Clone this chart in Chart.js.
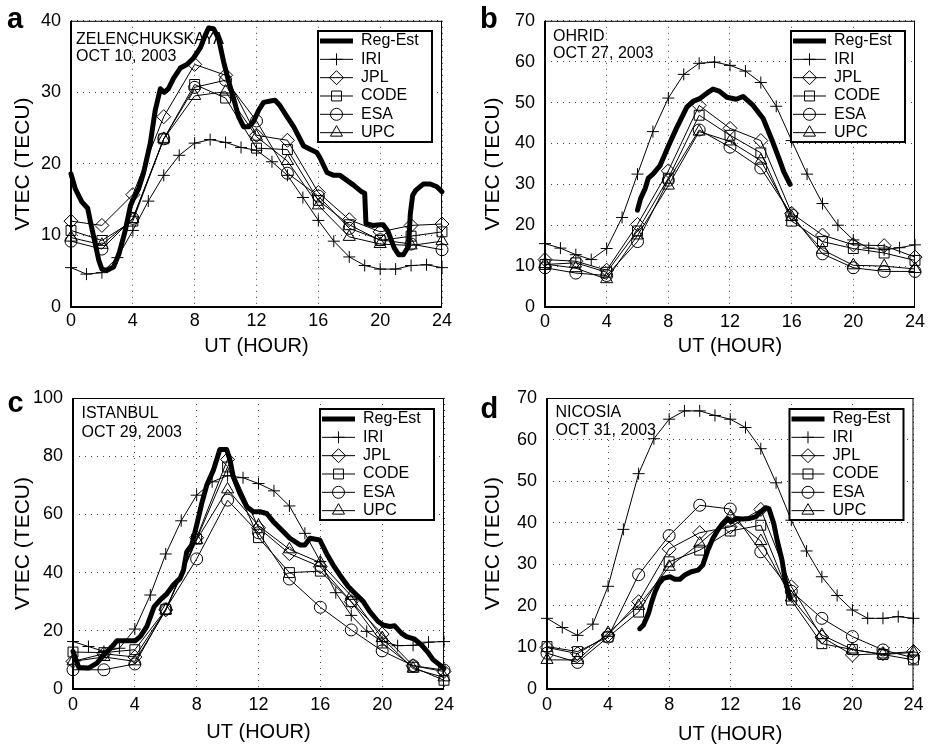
<!DOCTYPE html>
<html><head><meta charset="utf-8">
<script src="https://cdn.jsdelivr.net/npm/chart.js@4.4.1/dist/chart.umd.min.js"></script>
<style>
html,body{margin:0;padding:0;background:#fff;}
body{width:929px;height:746px;position:relative;overflow:hidden;}
canvas{position:absolute;display:block;}
</style></head><body>
<canvas id="ca" width="465" height="372" style="left:0px;top:0px;width:465px;height:372px"></canvas>
<canvas id="cb" width="464" height="372" style="left:465px;top:0px;width:464px;height:372px"></canvas>
<canvas id="cc" width="465" height="374" style="left:0px;top:372px;width:465px;height:374px"></canvas>
<canvas id="cd" width="464" height="374" style="left:465px;top:372px;width:464px;height:374px"></canvas>
<script>
// ---------------- DATA ----------------
const seriesNames = ['Reg-Est', 'IRI', 'JPL', 'CODE', 'ESA', 'UPC'];
const xTickValues = [0, 4, 8, 12, 16, 20, 24];
const hourly = [0,1,2,3,4,5,6,7,8,9,10,11,12,13,14,15,16,17,18,19,20,21,22,23,24];
const biHourly = [0,2,4,6,8,10,12,14,16,18,20,22,24];

// Panel a: ZELENCHUKSKAYA, OCT 10, 2003
const regEstHoursA = [0,0.28,0.7,1.08,1.25,1.57,1.8,2.0,2.3,2.75,3.1,3.5,3.85,4.05,4.37,4.7,5.13,5.45,5.78,6.03,6.3,6.64,7.07,7.5,7.93,8.36,8.69,8.9,9.22,9.55,9.87,10.19,10.5,10.84,11.16,11.5,11.8,12.14,12.46,12.9,13.2,13.5,13.97,14.4,15.05,15.5,15.9,16.1,16.56,17.0,17.4,17.85,18.3,18.8,19.0,19.08,19.5,20.0,20.2,20.5,20.9,21.2,21.5,21.84,21.95,22.1,22.3,22.8,23.24,23.67,24];
const regEstA = [18.6,16.5,14.7,13.8,12.0,8.8,6.5,5.3,5.1,5.6,7.4,10.6,14.2,15.2,16.5,18.8,22.9,27.5,30.5,30.0,30.5,32.0,33.4,33.9,34.8,36.2,38.0,39.0,38.9,37.5,34.3,31.6,29.3,26.6,25.2,25.2,25.9,27.5,28.6,28.8,28.9,28.2,26.6,25.2,22.5,22.0,21.6,20.9,18.8,18.4,18.4,17.7,17.0,16.1,15.9,11.7,11.4,11.5,11.5,10.6,8.3,7.3,7.3,8.5,13.0,15.6,16.3,17.2,17.2,16.8,16.1];
const iriA = [5.5,4.6,4.8,6.9,10.7,14.8,18.4,21.2,22.9,23.4,23.0,22.3,21.9,20.3,18.4,15.3,12.1,9.2,7.0,5.8,5.3,5.3,5.8,5.9,5.5];
const jplA = [12.0,11.4,15.7,26.6,33.9,32.4,24.0,23.3,16.0,12.2,10.5,11.4,11.6];
const codeA = [10.7,9.3,12.0,23.5,31.1,29.2,22.2,22.0,14.9,11.5,9.3,9.9,10.5];
const esaA = [9.2,8.1,12.4,23.5,30.7,31.7,26.0,18.7,15.5,11.0,9.4,8.8,8.0];
const upcA = [9.7,8.7,12.3,23.5,29.5,30.1,23.8,20.4,14.2,9.8,8.8,8.6,9.2];

// Panel b: OHRID, OCT 27, 2003
const regEstHoursB = [6.0,6.2,6.5,6.7,7.0,7.45,8.0,8.5,9.2,9.6,10.0,10.5,10.9,11.3,11.8,12.4,12.85,13.5,14.15,14.8,15.2,15.5,15.9];
const regEstB = [23.7,26.5,29.0,31.5,32.5,34.5,39.3,43.5,48.9,50.3,50.9,52.3,53.3,52.8,51.3,50.8,51.5,49.3,46.1,40.1,36.1,33.0,30.0];
const iriB = [15.5,14.4,12.8,11.6,14.3,21.9,32.5,42.9,51.1,56.9,59.6,59.9,59.1,57.7,54.9,49.1,40.7,32.5,25.3,20.0,16.4,14.4,14.0,14.5,15.2];
const jplB = [11.6,11.2,9.0,20.2,33.3,49.3,43.7,40.7,22.9,17.6,15.2,15.0,12.2];
const codeB = [10.4,10.8,8.5,18.6,31.5,46.9,42.0,37.7,21.0,16.0,14.3,13.2,11.4];
const esaB = [9.6,8.3,7.7,16.0,31.0,43.3,39.1,34.0,22.5,13.0,9.6,8.7,8.7];
const upcB = [10.5,9.5,6.8,17.5,29.7,42.9,40.5,35.8,22.0,14.0,10.2,10.0,9.3];

// Panel c: ISTANBUL, OCT 29, 2003
const regEstHoursC = [0,0.37,1.0,1.55,2.1,2.63,2.84,4.02,4.35,4.78,5.25,5.64,6.07,6.5,6.93,7.15,7.36,7.68,8.0,8.33,8.65,9.08,9.5,9.94,10.16,10.37,10.8,11.24,11.67,12.1,12.53,12.96,13.5,14.03,14.68,15.0,15.33,15.97,16.4,16.83,17.26,17.8,18.23,18.77,19.2,19.74,20.06,20.49,20.81,21.24,21.57,22.1,22.53,22.96,23.29,23.72,24];
const regEstC = [12.9,7.4,7.2,8.9,12.3,15.2,16.6,16.6,18.0,21.5,28.3,30.6,32.7,35.8,38.0,40.9,47.2,49.5,56.3,63.8,70.0,75.2,82.3,82.3,78.6,72.9,67.2,62.6,60.9,60.9,60.3,57.5,54.6,51.8,49.5,49.5,51.8,51.2,46.6,42.6,39.2,35.2,32.9,30.1,26.6,23.2,22.0,21.5,21.7,19.2,18.0,17.1,15.2,12.6,10.1,8.3,7.0];
const iriC = [16.3,14.6,12.9,14.0,20.6,32.3,46.4,57.8,66.6,71.2,73.3,72.6,70.6,68.1,62.9,53.5,43.8,33.1,25.3,19.8,16.3,14.9,15.0,16.1,16.3];
const jplC = [9.5,12.1,11.0,27.2,52.0,78.9,55.4,46.5,42.0,30.0,18.9,8.0,6.0];
const codeC = [12.7,12.5,13.5,27.3,51.5,76.3,52.0,40.0,40.5,30.0,15.8,7.5,3.0];
const esaC = [6.6,6.6,8.6,27.5,44.7,64.9,53.7,37.8,28.1,20.3,13.1,8.0,6.5];
const upcC = [9.5,11.0,9.5,27.0,51.2,68.6,56.1,48.0,43.4,32.0,17.5,7.0,4.0];

// Panel d: NICOSIA, OCT 31, 2003
const regEstHoursD = [6.07,6.32,6.65,6.86,7.08,7.3,7.62,8.05,8.37,8.7,9.02,9.45,9.89,10.2,10.53,10.86,11.18,11.5,11.83,12.04,12.37,12.8,13.23,13.66,13.99,14.31,14.53,14.85,15.07,15.39,15.6,15.82,15.93];
const regEstD = [14.5,15.4,18.2,21.0,23.4,25.2,26.6,27.0,26.4,26.4,27.4,28.2,28.6,29.8,33.4,36.2,38.2,39.8,41.0,40.2,41.0,40.9,41.0,41.4,42.6,43.6,43.4,39.8,35.8,31.0,26.2,23.0,21.8];
const iriD = [17.0,14.8,12.9,15.6,24.7,38.4,51.8,60.2,64.9,66.9,66.9,65.8,64.9,62.9,57.8,49.6,40.6,33.2,27.0,22.5,19.0,17.0,17.0,17.4,17.0];
const jplD = [10.0,8.5,13.0,21.0,33.7,37.6,39.0,43.2,24.6,12.5,8.2,8.5,9.0];
const codeD = [10.2,9.0,12.5,18.5,30.6,33.4,38.0,39.4,21.4,10.9,9.5,8.3,7.0];
const esaD = [8.6,6.4,12.5,27.5,36.9,44.2,43.3,33.0,23.5,17.0,12.6,9.4,7.5];
const upcD = [7.0,7.0,13.5,20.0,29.4,35.0,41.4,35.6,22.0,13.0,9.5,8.3,8.8];

// ---------------- RENDERING ----------------
const FONT = "'Liberation Sans', Arial, Helvetica, sans-serif";
const pts = (xs, ys) => xs.map((x, i) => ({x: x, y: ys[i]}));

const markerStyles = {
  'IRI':  {pointStyle: 'cross',    radius: 6},
  'JPL':  {pointStyle: 'rectRot',  radius: 7},
  'CODE': {pointStyle: 'rect',     radius: 7},
  'ESA':  {pointStyle: 'circle',   radius: 6},
  'UPC':  {pointStyle: 'triangle', radius: 7}
};

function drawMarker(ctx, style, radius, x, y) {
  ctx.save();
  ctx.strokeStyle = '#000';
  ctx.fillStyle = 'rgba(0,0,0,0)';
  ctx.lineWidth = 1;
  if (Chart.helpers && Chart.helpers.drawPoint) {
    Chart.helpers.drawPoint(ctx, {pointStyle: style, radius: radius, rotation: 0, borderWidth: 1}, x, y);
  }
  ctx.restore();
}

const framePlugin = {
  id: 'framePlugin',
  beforeDatasetsDraw(chart, args, opts) {
    const ctx = chart.ctx, a = chart.chartArea;
    ctx.save();
    // station text
    ctx.fillStyle = '#000';
    ctx.font = '16px ' + FONT;
    ctx.textBaseline = 'middle';
    ctx.textAlign = 'left';
    opts.station.forEach((t, i) => ctx.fillText(t, a.left + opts.stX, a.top + opts.stY[i]));
    // frame
    ctx.fillStyle = '#000';
    ctx.fillRect(a.left, a.top, a.right - a.left, 1);
    ctx.fillRect(a.right - 1, a.top, 1, a.bottom - a.top);
    ctx.fillRect(a.left - 1, a.top, 2, a.bottom - a.top + 1);
    ctx.fillRect(a.left - 1, a.bottom - 1, a.right - a.left + 1, 2);
    ctx.restore();
  },
  afterDraw(chart, args, opts) {
    const ctx = chart.ctx;
    ctx.save();
    ctx.fillStyle = '#000';
    ctx.font = 'bold 29px ' + FONT;
    ctx.textBaseline = 'alphabetic';
    ctx.textAlign = 'left';
    ctx.fillText(opts.letter, opts.letterX, opts.letterY);
    ctx.restore();
  }
};

const boxLegendPlugin = {
  id: 'boxLegend',
  afterDatasetsDraw(chart) {
    const ctx = chart.ctx, a = chart.chartArea;
    const w = 114, h = 111;
    const bx = a.right - 10 - w, by = Math.round(a.top + 10.5);
    ctx.save();
    ctx.fillStyle = '#fff';
    ctx.fillRect(bx, by, w, h);
    ctx.strokeStyle = '#000';
    ctx.lineWidth = 2;
    ctx.strokeRect(bx, by, w, h);
    ctx.font = '16px ' + FONT;
    ctx.textBaseline = 'middle';
    ctx.textAlign = 'left';
    chart.data.datasets.forEach((ds, i) => {
      const ry = by + 10 + i * 18.33;
      ctx.strokeStyle = '#000';
      ctx.lineWidth = ds.borderWidth;
      ctx.beginPath();
      ctx.moveTo(bx + 2, ry);
      ctx.lineTo(bx + 35, ry);
      ctx.stroke();
      if (ds.pointRadius > 0) drawMarker(ctx, ds.pointStyle, ds.pointRadius, bx + 18.5, ry);
      ctx.fillStyle = '#000';
      ctx.fillText(ds.label, bx + 43, ry);
    });
    ctx.restore();
  }
};

function makePanel(p) {
  const cv = document.getElementById(p.id);
  const W = cv.width, H = cv.height;
  const seriesData = [pts(p.regH, p.reg), pts(hourly, p.iri), pts(biHourly, p.jpl), pts(biHourly, p.code), pts(biHourly, p.esa), pts(biHourly, p.upc)];
  const datasets = seriesNames.map((name, i) => {
    const base = {label: name, data: seriesData[i], borderColor: '#000', backgroundColor: 'rgba(0,0,0,0)', fill: false, tension: 0, clip: false};
    if (i === 0) {
      return Object.assign(base, {borderWidth: 5, pointRadius: 0, borderJoinStyle: 'round', borderCapStyle: 'round'});
    }
    const m = markerStyles[name];
    return Object.assign(base, {borderWidth: 1, pointStyle: m.pointStyle, pointRadius: m.radius, pointBorderColor: '#000', pointBackgroundColor: 'rgba(0,0,0,0)', pointBorderWidth: 1});
  });
  new Chart(cv, {
    type: 'line',
    data: {datasets},
    options: {
      responsive: false, animation: false, devicePixelRatio: 1,
      events: [],
      layout: {padding: {left: 0, top: p.T, right: W - p.R, bottom: 0}},
      plugins: {
        legend: {display: false}, tooltip: {enabled: false}, title: {display: false},
        framePlugin: {station: p.station, stX: p.stX, stY: p.stY, letter: p.letter, letterX: p.letterX, letterY: p.letterY}
      },
      scales: {
        x: {
          type: 'linear', min: 0, max: 24,
          afterBuildTicks: (s) => { s.ticks = xTickValues.map(v => ({value: v})); },
          ticks: {font: {size: 18, family: FONT}, color: '#000', padding: p.xTickPad, maxRotation: 0, autoSkip: false},
          grid: {color: '#444', lineWidth: 1, drawTicks: false},
          border: {display: false, dash: [1, 5]},
          title: {display: true, text: 'UT (HOUR)', color: '#000', font: {size: 20, family: FONT}, padding: {top: 0, bottom: p.xTitlePad}},
          afterFit: (s) => { s.height = H - p.B; }
        },
        y: {
          type: 'linear', min: 0, max: p.yMax,
          ticks: {stepSize: p.yStep, font: {size: 18, family: FONT}, color: '#000', padding: 10},
          grid: {color: '#444', lineWidth: 1, drawTicks: false},
          border: {display: false, dash: [1, 5]},
          title: {display: true, text: 'VTEC (TECU)', color: '#000', font: {size: 21, family: FONT}, padding: {top: p.yTitlePad, bottom: 0}},
          afterFit: (s) => { s.width = p.L; }
        }
      }
    },
    plugins: [framePlugin, boxLegendPlugin]
  });
}

makePanel({id: 'ca', L: 71, R: 442, T: 15, B: 307, yMax: 40, yStep: 10,
  regH: regEstHoursA, reg: regEstA, iri: iriA, jpl: jplA, code: codeA, esa: esaA, upc: upcA,
  station: ['ZELENCHUKSKAYA', 'OCT 10, 2003'], stX: 5, stY: [18.3, 35.7],
  letter: 'a', letterX: 7, letterY: 28.3, xTickPad: 3, xTitlePad: 14, yTitlePad: 10.4});
makePanel({id: 'cb', L: 80, R: 450, T: 16, B: 307, yMax: 70, yStep: 10,
  regH: regEstHoursB, reg: regEstB, iri: iriB, jpl: jplB, code: codeB, esa: esaB, upc: upcB,
  station: ['OHRID', 'OCT 27, 2003'], stX: 8, stY: [15.7, 33],
  letter: 'b', letterX: 15, letterY: 28.3, xTickPad: 4, xTitlePad: 13.3, yTitlePad: 15.7});
makePanel({id: 'cc', L: 73, R: 444, T: 26, B: 317, yMax: 100, yStep: 20,
  regH: regEstHoursC, reg: regEstC, iri: iriC, jpl: jplC, code: codeC, esa: esaC, upc: upcC,
  station: ['ISTANBUL', 'OCT 29, 2003'], stX: 8.5, stY: [15.5, 34.5],
  letter: 'c', letterX: 7.5, letterY: 39.7, xTickPad: 5.5, xTitlePad: 1.2, yTitlePad: 10.7});
makePanel({id: 'cd', L: 82, R: 453, T: 26, B: 317, yMax: 70, yStep: 10,
  regH: regEstHoursD, reg: regEstD, iri: iriD, jpl: jplD, code: codeD, esa: esaD, upc: upcD,
  station: ['NICOSIA', 'OCT 31, 2003'], stX: 8.5, stY: [14.3, 32.7],
  letter: 'd', letterX: 15.5, letterY: 46, xTickPad: 5.5, xTitlePad: 0, yTitlePad: 15.7});
</script>
</body></html>
